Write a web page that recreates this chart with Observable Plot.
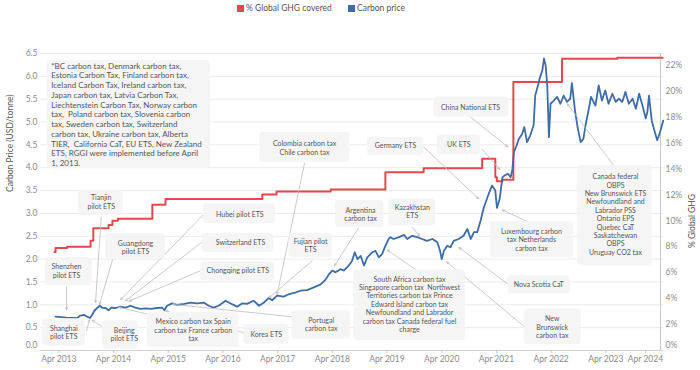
<!DOCTYPE html>
<html><head><meta charset="utf-8">
<script src="https://cdn.jsdelivr.net/npm/d3@7"></script>
<script src="https://cdn.jsdelivr.net/npm/@observablehq/plot@0.6"></script>
<style>
html,body{margin:0;padding:0;background:#fff;}
#legend{position:relative;height:20px;width:700px;font-family:Lato,sans-serif;font-size:8.5px;color:#555;}
.sw{position:absolute;top:5px;width:7px;height:7px;}
.lt{position:absolute;top:3px;line-height:11px;white-space:nowrap;}
</style></head><body>
<div id="legend"></div>
<div id="chart"></div>
<script>
// ---------------- data ----------------
const legendLabels = ["% Global GHG covered", "Carbon price"];

// % of global GHG covered (step series), decimal years
const ghgYears = [2013.17, 2013.19, 2013.40, 2013.83, 2013.88, 2014.16, 2014.23, 2014.33, 2014.96, 2015.20, 2016.97, 2017.23, 2018.22, 2019.22, 2019.92, 2020.99, 2021.23, 2021.26, 2021.36, 2021.56, 2022.45, 2023.46, 2024.29];
const ghgPct = [7.6, 7.9, 8.0, 8.47, 9.42, 9.68, 10.0, 10.15, 11.23, 11.69, 12.02, 12.26, 12.41, 13.75, 14.06, 14.78, 13.36, 13.05, 13.16, 20.7, 22.5, 22.58, 22.58];

// Carbon price (USD/tonne), decimal years
const priceYears = [2013.19,2013.39,2013.59,2013.63,2013.71,2013.77,2013.82,2013.86,2013.90,2013.95,
2014.00,2014.04,2014.10,2014.16,2014.21,2014.29,2014.38,2014.47,2014.56,2014.65,
2014.74,2014.84,2014.93,2015.05,2015.14,2015.18,2015.23,2015.32,2015.41,2015.54,
2015.66,2015.78,2015.90,2015.99,2016.08,2016.17,2016.30,2016.39,2016.51,2016.60,
2016.69,2016.81,2016.91,2017.00,2017.09,2017.15,2017.24,2017.36,2017.45,2017.58,
2017.67,2017.79,2017.91,2018.03,2018.12,2018.19,2018.25,2018.31,2018.40,2018.46,
2018.55,2018.61,2018.66,2018.71,2018.77,2018.83,2018.89,2018.98,2019.04,2019.10,
2019.16,2019.22,2019.28,2019.31,2019.37,2019.47,2019.56,2019.62,2019.71,2019.80,
2019.89,2019.98,2020.08,2020.17,2020.22,2020.25,2020.29,2020.35,2020.41,2020.47,
2020.56,2020.65,2020.72,2020.78,2020.84,2020.90,2020.96,2021.02,2021.11,2021.17,
2021.23,2021.26,2021.31,2021.36,2021.40,2021.46,2021.51,2021.54,2021.57,2021.62,
2021.66,2021.72,2021.76,2021.81,2021.87,2021.93,2021.96,2022.01,2022.04,2022.09,
2022.12,2022.15,2022.18,2022.21,2022.24,2022.30,2022.36,2022.42,2022.48,2022.54,
2022.60,2022.63,2022.69,2022.74,2022.79,2022.84,2022.88,2022.94,2022.98,2023.06,
2023.12,2023.18,2023.24,2023.30,2023.37,2023.43,2023.49,2023.55,2023.61,2023.67,
2023.74,2023.80,2023.86,2023.92,2023.98,2024.01,2024.04,2024.09,2024.13,2024.19,
2024.24,2024.30];
const priceValues = [0.74,0.72,0.71,0.76,0.78,0.74,0.71,0.78,0.87,0.93,
0.98,0.94,0.93,0.88,0.94,0.93,0.96,0.94,0.98,0.94,
0.91,0.92,0.91,0.93,0.94,0.88,0.98,1.03,1.00,1.02,
1.05,1.03,1.05,0.98,0.94,0.98,1.09,1.03,0.96,1.03,
1.02,1.09,0.98,1.05,1.15,1.10,1.20,1.18,1.23,1.27,
1.31,1.32,1.38,1.44,1.54,1.67,1.75,1.71,1.78,1.75,
1.86,1.96,2.15,2.00,2.07,1.86,2.04,2.15,2.18,2.04,
2.11,2.29,2.44,2.48,2.44,2.48,2.53,2.44,2.51,2.48,
2.44,2.40,2.44,2.37,2.18,2.00,2.18,2.29,2.26,2.40,
2.44,2.51,2.66,2.44,2.59,2.59,2.84,3.13,3.43,3.61,
3.50,3.12,3.32,3.79,3.83,3.87,3.79,3.94,4.34,4.49,
4.63,4.74,4.89,4.56,4.71,4.93,5.58,5.80,5.95,6.13,
6.39,6.24,5.80,4.67,5.40,5.47,5.55,5.40,5.58,5.44,
5.51,5.85,5.22,4.85,4.56,4.63,4.93,5.29,5.55,5.36,
5.80,5.47,5.69,5.40,5.62,5.44,5.51,5.44,5.66,5.40,
5.51,5.29,5.62,5.36,5.08,5.22,5.58,5.03,4.85,4.60,
4.77,5.03];

// axes
const xTickYears = [2013.25,2014.25,2015.25,2016.25,2017.25,2018.25,2019.25,2020.25,2021.25,2022.25,2023.25,2024.25];
const xTickLabels = ["Apr 2013","Apr 2014","Apr 2015","Apr 2016","Apr 2017","Apr 2018","Apr 2019","Apr 2020","Apr 2021","Apr 2022","Apr 2023","Apr 2024"];
const yTicks = [0,0.5,1,1.5,2,2.5,3,3.5,4,4.5,5,5.5,6,6.5];
const yTickLabels = ["0.0","0.5","1.0","1.5","2.0","2.5","3.0","3.5","4.0","4.5","5.0","5.5","6.0","6.5"];
const pctTicks = [0,2,4,6,8,10,12,14,16,18,20,22];
const pctTickLabels = ["0%","2%","4%","6%","8%","10%","12%","14%","16%","18%","20%","22%"];
const yTitle = "Carbon Price (USD/tonne)";
const y2Title = "% Global GHG";

// note
const noteLines = ["*BC carbon tax, Denmark carbon tax,","Estonia Carbon Tax, Finland carbon tax,","Iceland Carbon Tax, Ireland carbon tax,","Japan carbon tax, Latvia Carbon Tax,","Liechtenstein Carbon Tax, Norway carbon","tax,  Poland carbon tax, Slovenia carbon","tax, Sweden carbon tax, Switzerland","carbon tax, Ukraine carbon tax, Alberta","TIER,  California CaT, EU ETS, New Zealand","ETS, RGGI were implemented before April","1, 2013."];

// annotations: label, label anchor (year, price), box [x1,x2,y1,y2], arrow [x1,y1,x2,y2]
const annotations = [
 {text:"Tianjin\npilot ETS", x:2014.025, y:3.254, box:[2013.605,2014.427,2.952,3.500], arrow:[2014.025,2.914,2013.921,1.050]},
 {text:"Shenzhen\npilot ETS", x:2013.391, y:1.741, box:[2013.007,2013.861,1.417,2.037], arrow:[2013.391,1.395,2013.391,0.890]},
 {text:"Shanghai\npilot ETS", x:2013.341, y:0.404, box:[2012.947,2013.738,0.101,0.693], arrow:[2013.756,0.430,2013.811,0.671]},
 {text:"Beijing\npilot ETS", x:2014.446, y:0.357, box:[2014.043,2014.712,0.035,0.649], arrow:[2014.049,0.518,2013.86,0.66]},
 {text:"Guangdong\npilot ETS", x:2014.652, y:2.253, box:[2014.104,2015.20,2.009,2.557], arrow:[2014.232,1.987,2013.994,1.0]},
 {text:"Hubei pilot ETS", x:2016.559, y:2.989, box:[2015.895,2017.212,2.776,3.215], arrow:[2015.895,2.974,2014.378,1.110]},
 {text:"Switzerland ETS", x:2016.572, y:2.366, box:[2015.872,2017.181,2.147,2.564], arrow:[2015.877,2.382,2014.469,1.088]},
 {text:"Chongqing pilot ETS", x:2016.522, y:1.746, box:[2015.841,2017.194,1.526,1.943], arrow:[2015.841,1.746,2014.530,1.077]},
 {text:"Mexico carbon tax Spain\ncarbon tax France carbon\ntax", x:2015.707, y:0.452, box:[2014.866,2016.541,0.064,0.831], arrow:[2014.926,0.781,2014.341,0.945]},
 {text:"Korea ETS", x:2017.042, y:0.357, box:[2016.632,2017.455,0.138,0.577], arrow:[2016.645,0.386,2015.2,0.868]},
 {text:"Portugal\ncarbon tax", x:2018.047, y:0.572, box:[2017.515,2018.583,0.248,0.868], arrow:[2017.524,0.737,2015.328,1.011]},
 {text:"Colombia carbon tax\nChile carbon tax", x:2017.742, y:4.439, box:[2016.925,2018.570,4.121,4.778], arrow:[2017.742,4.099,2017.239,1.219]},
 {text:"Fujian pilot\nETS", x:2017.852, y:2.300, box:[2017.455,2018.248,2.037,2.564], arrow:[2017.883,1.965,2017.093,1.154]},
 {text:"Argentina\ncarbon tax", x:2018.766, y:2.978, box:[2018.308,2019.191,2.695,3.281], arrow:[2018.729,2.682,2018.290,1.855]},
 {text:"Kazakhstan\nETS", x:2019.711, y:3.043, box:[2019.283,2020.137,2.732,3.318], arrow:[2019.716,2.695,2019.844,2.502]},
 {text:"Germany ETS", x:2019.405, y:4.487, box:[2018.888,2019.923,4.268,4.669], arrow:[2019.923,4.450,2020.928,3.318]},
 {text:"UK ETS", x:2020.563, y:4.502, box:[2020.168,2020.959,4.283,4.711], arrow:[2020.996,4.399,2021.312,3.961]},
 {text:"China National ETS", x:2020.777, y:5.327, box:[2020.106,2021.477,5.107,5.546], arrow:[2020.777,5.107,2021.462,4.454]},
 {text:"Luxembourg carbon\ntax Netherlands\ncarbon tax", x:2021.892, y:2.425, box:[2021.142,2022.665,2.037,2.827], arrow:[2021.813,2.827,2021.356,3.077]},
 {text:"Nova Scotia CaT", x:2022.025, y:1.439, box:[2021.458,2022.604,1.235,1.636], arrow:[2021.458,1.454,2020.563,2.257]},
 {text:"New\nBrunswick\ncarbon tax", x:2022.27, y:0.518, box:[2021.764,2022.800,0.123,0.906], arrow:[2021.764,0.518,2020.338,1.943]},
 {text:"South Africa carbon tax\nSingapore carbon tax  Northwest\nTerritories carbon tax Prince\nEdward Island carbon tax\nNewfoundland and Labrador\ncarbon tax Canada federal fuel\ncharge", x:2019.661, y:1.015, box:[2018.643,2020.685,0.211,1.761], arrow:[2019.802,1.746,2019.254,2.200]},
 {text:"Canada federal\nOBPS\nNew Brunswick ETS\nNewfoundland and\nLabrador PSS\nOntario EPS\nQuebec CaT\nSaskatchewan\nOBPS\nUruguay CO2 tax", x:2023.427, y:2.981, box:[2022.727,2024.098,1.855,4.048], arrow:[2023.396,4.048,2022.544,5.401]}
];
const note = {x:2013.111, y:5.17, box:[2013.038,2016.023,3.982,6.351]};

// ---------------- chart ----------------
const RED = "#e4474c", BLUE = "#3d6ca6";
const legendColors = [RED, BLUE];
const swLeft = [237, 348];
const legend = document.getElementById("legend");
legendLabels.forEach((l, i) => {
  const s = document.createElement("div"); s.className = "sw"; s.style.left = swLeft[i] + "px"; s.style.background = legendColors[i]; legend.appendChild(s);
  const t = document.createElement("div"); t.className = "lt"; t.style.left = (swLeft[i] + 9) + "px"; t.textContent = l; legend.appendChild(t);
});

const rightTopPct = 22.9;           // % value at top of the frame (6.5 USD)
const k = 6.5 / rightTopPct;
const ghg = ghgYears.map((t, i) => ({t, v: ghgPct[i] * k}));
const price = priceYears.map((t, i) => ({t, v: priceValues[i]}));

const fmtX = d => xTickLabels[xTickYears.indexOf(d)];
const fmtY = d => yTickLabels[yTicks.indexOf(d)];
const pctPos = pctTicks.map(p => p * k);
const fmtP = d => pctTickLabels[pctPos.indexOf(d)];

const tickGray = "#8c8c8c";
const chart = Plot.plot({
  width: 700, height: 350,
  marginTop: 33, marginBottom: 20, marginLeft: 40, marginRight: 37,
  x: {type: "linear", domain: [2012.915, 2024.305]},
  y: {domain: [0, 6.5]},
  style: {fontFamily: "Lato, sans-serif", fontSize: "8.5px", background: "#fff", overflow: "visible"},
  marks: [
    Plot.gridY({ticks: yTicks, stroke: "#ebebeb", strokeOpacity: 1}),
    Plot.ruleY([0], {stroke: "#cfcfcf"}),
    Plot.axisX({ticks: xTickYears.slice(0, -1), tickFormat: fmtX, tickSize: 3, tickPadding: 2, stroke: "#c8c8c8", fill: tickGray, label: null}),
    Plot.tickX(xTickYears.slice(-1), {x: d => d, frameAnchor: "bottom", stroke: "#c8c8c8"}),
    Plot.axisX({ticks: xTickYears.slice(-1), tickFormat: fmtX, tickSize: 3, tickPadding: 2, stroke: "#c8c8c8", fill: tickGray, label: null, dx: -15}),
    Plot.axisY({ticks: yTicks.slice(1), tickFormat: fmtY, tickSize: 0, tickPadding: 3, fill: tickGray, label: null}),
    Plot.axisY({ticks: [0], tickFormat: fmtY, tickSize: 0, tickPadding: 3, fill: tickGray, label: null, dy: -5}),
    Plot.axisY({anchor: "right", ticks: pctPos.slice(1), tickFormat: fmtP, tickSize: 0, tickPadding: 2, fill: tickGray, label: null}),
    Plot.axisY({anchor: "right", ticks: [0], tickFormat: fmtP, tickSize: 0, tickPadding: 2, fill: tickGray, label: null, dy: -5}),
    Plot.text([yTitle], {frameAnchor: "left", text: d => d, rotate: -90, dx: -30, dy: -10, fill: "#555", fontSize: 8.5}),
    Plot.text([y2Title], {frameAnchor: "right", text: d => d, rotate: -90, dx: 29, dy: -8, fill: "#555", fontSize: 8.5}),
    Plot.line(ghg, {x: "t", y: "v", curve: "step-after", stroke: RED, strokeWidth: 2}),
    Plot.line(price, {x: "t", y: "v", stroke: BLUE, strokeWidth: 1.8, strokeLinejoin: "round"}),
    Plot.arrow(annotations, {x1: d => d.arrow[0], y1: d => d.arrow[1], x2: d => d.arrow[2], y2: d => d.arrow[3], stroke: "#bdbdbd", strokeWidth: 0.8, headLength: 5, headAngle: 45}),
    Plot.rect(annotations, {x1: d => d.box[0], x2: d => d.box[1], y1: d => d.box[2], y2: d => d.box[3], fill: "#f4f4f4", fillOpacity: 0.92, rx: 4}),
    Plot.text(annotations, {x: "x", y: "y", text: "text", fill: "#555", fontSize: 7, lineHeight: 1.2, lineAnchor: "middle", textAnchor: "middle"}),
    Plot.rect([note], {x1: d => d.box[0], x2: d => d.box[1], y1: d => d.box[2], y2: d => d.box[3], fill: "#f4f4f4", fillOpacity: 0.92, rx: 4}),
    Plot.text([note], {x: "x", y: "y", text: () => noteLines.join("\n"), fill: "#555", fontSize: 8, lineHeight: 1.22, lineAnchor: "middle", textAnchor: "start"})
  ]
});
document.getElementById("chart").appendChild(chart);
</script></body></html>
